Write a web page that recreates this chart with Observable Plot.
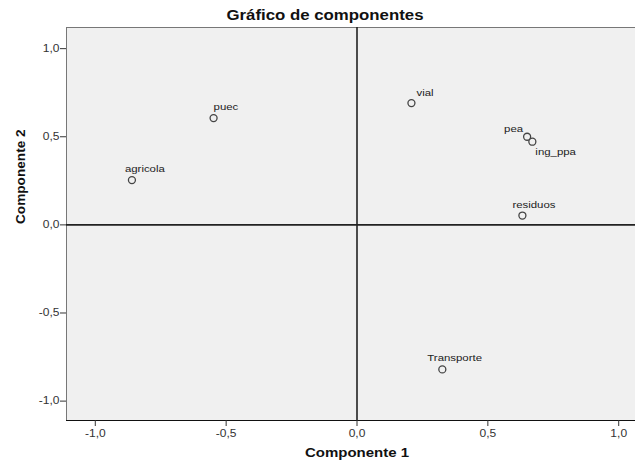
<!DOCTYPE html>
<html>
<head>
<meta charset="utf-8">
<script src="https://cdn.jsdelivr.net/npm/d3@7"></script>
<script src="https://cdn.jsdelivr.net/npm/@observablehq/plot@0.6"></script>
<style>
  html, body { margin: 0; padding: 0; background: #fff; overflow: hidden; width: 635px; height: 468px; }
  #title { height: 22px; width: 635px; position: relative; }
  #title span { position: absolute; left: 325px; top: 7px; transform: translateX(-50%) scaleX(1.2); white-space: nowrap;
    font-family: "Liberation Sans", Arial, sans-serif; font-weight: bold; font-size: 14px; line-height: 16px; color: #111; }
  #chart svg { display: block; max-width: none !important; height: 446px !important; width: 648px !important; }
</style>
</head>
<body>
<div id="title"><span>Gráfico de componentes</span></div>
<div id="chart"></div>
<script>
const variables = ["agricola", "puec", "vial", "pea", "ing_ppa", "residuos", "Transporte"];
const comp1 = [-0.860, -0.548, 0.208, 0.650, 0.670, 0.632, 0.326];
const comp2 = [0.254, 0.606, 0.691, 0.500, 0.472, 0.053, -0.820];
const tickValues = [-1.0, -0.5, 0.0, 0.5, 1.0];

// label placement (styling only)
const labelOffsets = {
  agricola: {anchor: "start", dx: -7, dy: -11},
  puec: {anchor: "start", dx: 0, dy: -11},
  vial: {anchor: "start", dx: 5, dy: -10},
  pea: {anchor: "end", dx: -4, dy: -8},
  ing_ppa: {anchor: "start", dx: 3, dy: 10},
  residuos: {anchor: "start", dx: -10, dy: -11},
  Transporte: {anchor: "start", dx: -15, dy: -11}
};

const data = variables.map((v, i) => ({name: v, x: comp1[i], y: comp2[i]}));
const fmt = d => d.toFixed(1).replace(".", ",");

const textMarks = data.map(d => {
  const o = labelOffsets[d.name];
  return Plot.text([d], {x: "x", y: "y", text: "name", textAnchor: o.anchor, dx: o.dx, dy: o.dy,
    fontSize: 9.5, fill: "#222", fontFamily: "Liberation Sans"});
});

const chart = Plot.plot({
  width: 648,
  height: 446,
  marginLeft: 66,
  marginRight: 1,
  marginTop: 5,
  marginBottom: 48,
  style: {fontFamily: "Liberation Sans, Arial, sans-serif", fontSize: "10px", color: "#333", background: "transparent", maxWidth: "none"},
  x: {domain: [-1.11, 1.11], ticks: tickValues, tickFormat: fmt, label: null},
  y: {domain: [-1.11, 1.12], ticks: tickValues, tickFormat: fmt, label: null},
  marks: [
    Plot.frame({fill: "#f0f0f0", stroke: "#777"}),
    Plot.frame({anchor: "bottom", stroke: "#111"}),
    Plot.axisX({ticks: tickValues, tickFormat: fmt, tickSize: 6, tickPadding: 3, stroke: "#333", label: null}),
    Plot.axisY({ticks: tickValues, tickFormat: fmt, tickSize: 6, tickPadding: 1, stroke: "#333", label: null}),
    Plot.ruleX([0], {stroke: "#222", strokeWidth: 1.6}),
    Plot.ruleY([0], {stroke: "#222", strokeWidth: 1.6}),
    Plot.dot(data, {x: "x", y: "y", r: 3.5, stroke: "#444", strokeWidth: 1.3, fill: "none"}),
    ...textMarks,
    Plot.text(["Componente 1"], {frameAnchor: "bottom", x: 0, dy: 36, fontWeight: "bold", fontSize: 12.5, fill: "#111"}),
    Plot.text(["Componente 2"], {frameAnchor: "left", dx: -46, rotate: -90, fontWeight: "bold", fontSize: 12.5, fill: "#111"})
  ]
});
document.getElementById("chart").appendChild(chart);

// widen glyphs horizontally like the reference rendering
chart.querySelectorAll("text").forEach(t => {
  const len = t.getComputedTextLength();
  if (!len) return;
  const rotated = (t.getAttribute("transform") || "").includes("rotate");
  const k = rotated ? 1.09 : 1.2;
  t.setAttribute("textLength", (len * k).toFixed(1));
  t.setAttribute("lengthAdjust", "spacingAndGlyphs");
});
</script>
</body>
</html>
